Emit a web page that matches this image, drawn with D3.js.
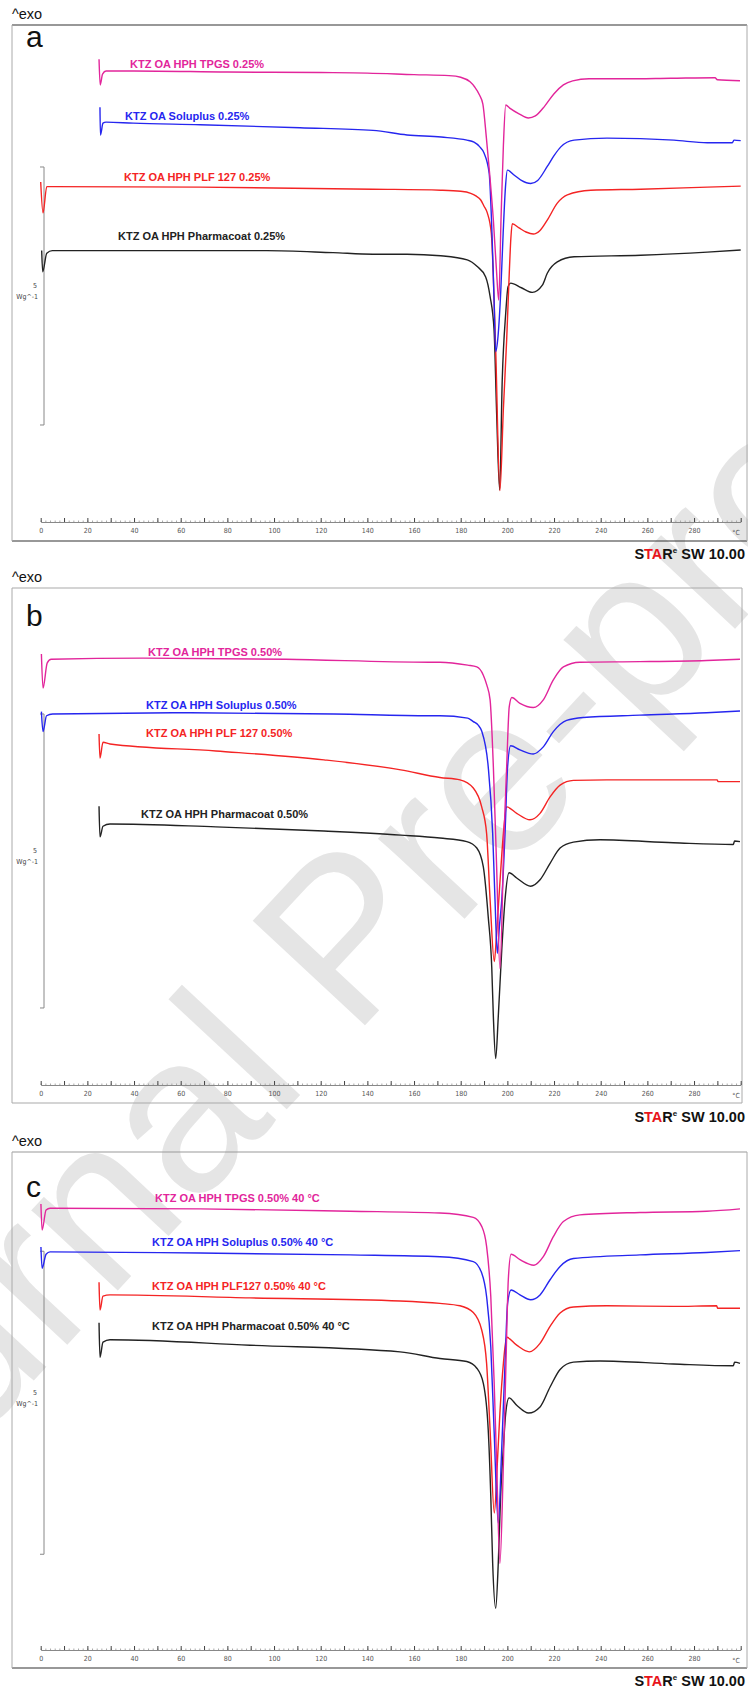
<!DOCTYPE html>
<html><head><meta charset="utf-8">
<script src="https://cdn.jsdelivr.net/npm/d3@7"></script>
<style>body{margin:0;background:#fff} svg{display:block}</style>
</head><body>
<svg id="chart" width="748" height="1693"></svg>
<script>
// ---------------- data ----------------
const temperatureDomain = [0, 300];
const tickLabelValues = [0,20,40,60,80,100,120,140,160,180,200,220,240,260,280];
const unitLabel = "°C";
const panelLetters = ["a", "b", "c"];
const seriesNames = ["TPGS", "Soluplus", "PLF 127", "Pharmacoat"];
const labelsA = ["KTZ OA HPH TPGS 0.25%", "KTZ OA Soluplus 0.25%", "KTZ OA HPH PLF 127 0.25%", "KTZ OA HPH Pharmacoat 0.25%"];
const labelsB = ["KTZ OA HPH TPGS 0.50%", "KTZ OA HPH Soluplus 0.50%", "KTZ OA HPH PLF 127 0.50%", "KTZ OA HPH Pharmacoat 0.50%"];
const labelsC = ["KTZ OA HPH TPGS 0.50% 40 °C", "KTZ OA HPH Soluplus 0.50% 40 °C", "KTZ OA HPH PLF127 0.50% 40 °C", "KTZ OA HPH Pharmacoat 0.50% 40 °C"];
// scale bar: [bottom, top] in W/g (5 W/g span)
const scaleBarA = [1.88, 6.88];
const scaleBarB = [1.31, 6.31];
const scaleBarC = [1.58, 6.58];

// heat flow curves [T (°C), W/g]
const tpgsA = [[25.0,8.97],[25.5,8.47],[26.5,8.68],[28,8.74],[40,8.74],[80,8.72],[120,8.71],[140,8.70],[160,8.67],[175,8.65],[180,8.62],[184,8.53],[186,8.43],[188,8.28],[189.5,8.10],[191,7.45],[192.5,6.70],[194,5.85],[195.3,4.90],[196.3,4.30],[197.3,5.90],[198.3,7.30],[199.3,8.08],[201,8.02],[205,7.91],[209,7.83],[212,7.87],[216,8.06],[220,8.30],[224,8.47],[228,8.55],[235,8.59],[250,8.59],[270,8.60],[289,8.61],[290,8.57],[299.7,8.55]];
const solA = [[25.4,8.04],[25.6,7.50],[26.7,7.73],[28,7.75],[39.6,7.73],[68.3,7.70],[111.1,7.64],[142.4,7.59],[157,7.50],[171.6,7.46],[182.7,7.40],[185.7,7.36],[188,7.28],[190,7.15],[192.2,6.76],[193.4,5.60],[194.3,4.30],[195,3.30],[196,3.60],[197.2,4.50],[198.2,5.60],[199.2,6.50],[200,6.82],[203,6.72],[206,6.62],[210,6.56],[213,6.62],[217.1,6.89],[220,7.10],[222.9,7.27],[228.6,7.40],[242.7,7.44],[271.4,7.40],[285.7,7.35],[296.4,7.35],[297.1,7.40],[300,7.39]];
const plfA = [[0,6.59],[1.0,5.99],[2.6,6.50],[5,6.50],[68.3,6.49],[142.4,6.45],[171.4,6.43],[180,6.41],[184.3,6.37],[186.5,6.32],[188.6,6.24],[190,6.12],[191.4,5.99],[193.1,5.60],[195,3.33],[196.8,0.61],[198.3,2.20],[199.7,3.53],[200.7,4.69],[201.5,5.50],[202.1,5.78],[205,5.70],[208,5.62],[211.1,5.58],[214,5.65],[217.1,5.85],[221.4,6.18],[225.7,6.34],[235.7,6.43],[257.1,6.45],[285.7,6.49],[300,6.51]];
const phA = [[0.43,5.26],[0.86,4.85],[2.6,5.21],[5,5.26],[39.7,5.26],[96.9,5.26],[125.3,5.22],[142.4,5.19],[157,5.19],[171.4,5.16],[182.8,5.08],[187.1,4.95],[190.7,4.75],[192.6,4.37],[194.3,3.72],[195.4,2.11],[196.7,0.62],[197.8,2.75],[199.3,4.05],[200.3,4.56],[201.4,4.63],[206,4.54],[210.7,4.45],[215,4.59],[217.1,4.82],[221.4,5.04],[228.6,5.14],[257.1,5.17],[285.7,5.23],[300,5.27]];

const tpgsB = [[0.3,7.33],[1.0,6.75],[2.8,7.18],[4.5,7.24],[43.8,7.26],[105.1,7.24],[166.4,7.19],[171.1,7.19],[183,7.14],[186.9,7.11],[189.7,6.97],[191.2,6.80],[192.6,6.55],[194,5.41],[195.4,3.71],[196.8,1.98],[198.6,4.29],[199.7,5.41],[200.8,6.43],[201.9,6.59],[205.4,6.49],[211.1,6.42],[215.4,6.55],[219.7,6.89],[224,7.11],[231.1,7.19],[256.8,7.20],[285.4,7.22],[299.7,7.24]];
const solB = [[0.3,6.35],[1.0,6.01],[2.5,6.28],[5.1,6.31],[64.4,6.33],[125.7,6.31],[166.6,6.28],[171.1,6.28],[183,6.24],[185.4,6.18],[187.5,6.12],[189,6.02],[191.8,5.41],[193.7,4.28],[194.7,3.15],[195.7,2.24],[196.6,2.70],[197.6,3.15],[199,4.28],[200.1,5.41],[201.4,5.77],[205.4,5.70],[211.1,5.63],[215.4,5.75],[219.7,6.01],[225.4,6.20],[232.5,6.25],[256.8,6.29],[285.4,6.33],[299.7,6.36]];
const plfB = [[25,5.97],[25.4,5.56],[26.7,5.83],[29.7,5.80],[75.1,5.68],[121.4,5.53],[154.3,5.36],[171.1,5.23],[179.7,5.19],[185.4,5.05],[189,4.73],[191.1,4.28],[192.6,3.15],[194.4,2.10],[195.4,2.59],[196.8,3.44],[198.3,4.28],[199.7,4.73],[204,4.62],[209.7,4.51],[214,4.62],[218.3,4.90],[222.6,5.10],[228.3,5.18],[242.6,5.19],[271.1,5.19],[289.9,5.19],[290.3,5.16],[299.7,5.16]];
const phB = [[25,4.74],[25.4,4.22],[26.7,4.40],[29.7,4.44],[75.1,4.39],[121.4,4.32],[154.3,4.25],[171.1,4.20],[182.6,4.14],[186.9,4.03],[189.7,3.71],[191.8,2.86],[193.3,2.01],[194,1.16],[195,0.45],[196.1,1.16],[197.6,2.30],[199,3.15],[200.7,3.61],[204,3.52],[210,3.38],[214,3.49],[218.3,3.77],[222.6,4.03],[228.3,4.13],[239.7,4.17],[271.1,4.12],[296.8,4.09],[297.4,4.15],[299.7,4.14]];

const tpgsC = [[0.1,7.36],[0.6,6.93],[2.3,7.26],[4,7.29],[68.3,7.28],[132.6,7.24],[171.1,7.21],[185.4,7.14],[189,6.99],[191.1,6.66],[192.9,5.83],[194.3,4.46],[195.4,3.08],[196.8,1.43],[198.3,3.08],[199.4,4.73],[200.4,6.11],[201.6,6.53],[205.4,6.44],[211.4,6.35],[215.4,6.49],[219.7,6.82],[224,7.07],[231.1,7.18],[256.8,7.22],[285.4,7.24],[299.7,7.28]];
const solC = [[0.1,6.65],[0.6,6.30],[2.3,6.53],[4,6.57],[68.3,6.55],[132.6,6.52],[171.1,6.49],[185.4,6.41],[189,6.22],[191.1,5.83],[192.9,5.00],[194.3,3.63],[196.1,2.09],[197.6,3.35],[199,4.73],[200.1,5.72],[201.6,5.94],[205.4,5.86],[210,5.78],[214,5.86],[218.3,6.11],[222.6,6.33],[228.3,6.46],[256.8,6.52],[285.4,6.56],[299.7,6.59]];
const plfC = [[25,6.07],[25.4,5.61],[26.7,5.84],[29.7,5.86],[89.7,5.81],[154,5.76],[171.1,5.72],[179.7,5.68],[185.4,5.57],[189,5.28],[191.1,4.73],[192.6,3.63],[194.4,2.26],[195.7,3.08],[196.8,3.91],[198.3,4.73],[199.7,5.16],[204,5.03],[209.4,4.92],[214,5.06],[218.3,5.34],[222.6,5.56],[228.3,5.66],[242.6,5.68],[271.1,5.67],[289.7,5.68],[290.1,5.64],[299.7,5.64]];
const phC = [[25,5.40],[25.4,4.83],[26.7,5.08],[29.7,5.12],[89.7,5.03],[154,4.92],[171.1,4.81],[182.6,4.76],[186.9,4.65],[189.7,4.40],[191.8,3.63],[192.9,2.53],[193.7,1.43],[195,0.69],[196.1,1.43],[197.1,2.53],[198.3,3.35],[199.3,3.91],[200.7,4.16],[204,4.04],[209.1,3.91],[214,4.01],[218.3,4.34],[222.6,4.63],[228.3,4.75],[239.7,4.77],[271.1,4.72],[296.8,4.69],[297.4,4.75],[299.7,4.73]];

// ---------------- layout / style ----------------
const colors = ["#e2259b", "#2626ef", "#f42424", "#222222"];
const drawOrder = [3, 2, 1, 0];
const panels = [
  {letter: panelLetters[0], data: [tpgsA, solA, plfA, phA], labels: labelsA, bar: scaleBarA,
   frame: {top: 25, bottom: 541, left: 12, right: 747, topC: "#333", sideC: "#aaa", bottomC: "#333"},
   axisY: 522, ppu: 51.6, exoY: 19, letterY: 47, starY: 559,
   labelPos: [[130,68],[125,120],[124,181],[118,240]]},
  {letter: panelLetters[1], data: [tpgsB, solB, plfB, phB], labels: labelsB, bar: scaleBarB,
   frame: {top: 588, bottom: 1103, left: 12, right: 742, topC: "#aaa", sideC: "#aaa", bottomC: "#aaa"},
   axisY: 1085, ppu: 58.8, exoY: 582, letterY: 626, starY: 1122,
   labelPos: [[148,656],[146,709],[146,737],[141,818]]},
  {letter: panelLetters[2], data: [tpgsC, solC, plfC, phC], labels: labelsC, bar: scaleBarC,
   frame: {top: 1152, bottom: 1668, left: 12, right: 747, topC: "#999", sideC: "#aaa", bottomC: "#333"},
   axisY: 1650, ppu: 60.6, exoY: 1146, letterY: 1197, starY: 1686,
   labelPos: [[155,1202],[152,1246],[152,1290],[152,1330]]}
];

const svg = d3.select("#chart");
const x = d3.scaleLinear().domain(temperatureDomain).range([40.7, 740.7]);

// watermark
svg.append("text")
  .attr("transform", "translate(399,989) rotate(-47)")
  .attr("text-anchor", "middle")
  .style("font-family", "'Liberation Sans', Arial, sans-serif")
  .style("font-size", "223px")
  .attr("fill", "#e5e5e5")
  .text("Journal Pre-proof");

panels.forEach(p => {
  const g = svg.append("g");
  const f = p.frame;
  const y = d3.scaleLinear().domain([0, 1]).range([p.axisY, p.axisY - p.ppu]);

  // ^exo
  g.append("text").attr("x", 12).attr("y", p.exoY)
    .style("font", "14.5px 'Liberation Sans', Arial, sans-serif").attr("fill", "#111").text("^exo");

  // frame
  g.append("line").attr("x1", f.left).attr("x2", f.right).attr("y1", f.top).attr("y2", f.top).attr("stroke", f.topC).attr("stroke-width", 1.2);
  g.append("line").attr("x1", f.left).attr("x2", f.right).attr("y1", f.bottom).attr("y2", f.bottom).attr("stroke", f.bottomC).attr("stroke-width", 1.2);
  g.append("line").attr("x1", f.left).attr("x2", f.left).attr("y1", f.top).attr("y2", f.bottom).attr("stroke", f.sideC).attr("stroke-width", 1);
  g.append("line").attr("x1", f.right).attr("x2", f.right).attr("y1", f.top).attr("y2", f.bottom).attr("stroke", f.sideC).attr("stroke-width", 1);

  // panel letter
  g.append("text").attr("x", 26).attr("y", p.letterY)
    .style("font", "30px 'Liberation Sans', Arial, sans-serif").attr("fill", "#111").text(p.letter);

  // x axis: minor ticks, major ticks, labels
  const axMinor = d3.axisTop(x).tickValues(d3.range(0, 301, 2)).tickSize(1.5).tickSizeOuter(0).tickFormat("");
  const axMajor = d3.axisTop(x).tickValues(d3.range(0, 301, 10)).tickSize(4).tickSizeOuter(0).tickFormat("");
  const axLab = d3.axisBottom(x).tickValues(tickLabelValues).tickSize(0).tickPadding(6).tickFormat(d3.format("d"));
  const gMinor = g.append("g").attr("transform", `translate(0,${p.axisY})`).call(axMinor);
  gMinor.select(".domain").attr("stroke", "#888");
  gMinor.selectAll(".tick line").attr("stroke", "#aaa");
  const gMajor = g.append("g").attr("transform", `translate(0,${p.axisY})`).call(axMajor);
  gMajor.select(".domain").remove();
  gMajor.selectAll(".tick line").attr("stroke", "#444");
  const gLab = g.append("g").attr("transform", `translate(0,${p.axisY})`).call(axLab);
  gLab.select(".domain").remove();
  gLab.selectAll(".tick text").attr("fill", "#555")
    .style("font-family", "'DejaVu Sans Condensed', 'Liberation Sans', sans-serif").style("font-size", "7px");
  g.append("text").attr("x", x(298)).attr("y", p.axisY + 12.5).attr("text-anchor", "middle")
    .style("font-family", "'DejaVu Sans Condensed', 'Liberation Sans', sans-serif").style("font-size", "7px")
    .attr("fill", "#555").text(unitLabel);

  // scale bar
  const yb0 = y(p.bar[0]), yb1 = y(p.bar[1]);
  g.append("path").attr("d", `M40,${yb1}H44V${yb0}H40`).attr("fill", "none").attr("stroke", "#888").attr("stroke-width", 1);
  const mid = (yb0 + yb1) / 2;
  g.append("text").attr("x", 37).attr("y", mid - 8).attr("text-anchor", "end")
    .style("font", "7px 'DejaVu Sans Condensed', sans-serif").attr("fill", "#444").text(p.bar[1] - p.bar[0]);
  g.append("text").attr("x", 38).attr("y", mid + 3).attr("text-anchor", "end")
    .style("font", "7px 'DejaVu Sans Condensed', sans-serif").attr("fill", "#444").text("Wg^-1");

  // curves
  const line = d3.line().x(d => x(d[0])).y(d => y(d[1])).curve(d3.curveMonotoneX);
  drawOrder.forEach(i => {
    g.append("path").datum(p.data[i]).attr("d", line)
      .attr("fill", "none").attr("stroke", colors[i]).attr("stroke-width", 1.4)
      .attr("stroke-linejoin", "round");
  });

  // series labels
  p.labels.forEach((t, i) => {
    g.append("text").attr("x", p.labelPos[i][0]).attr("y", p.labelPos[i][1])
      .style("font", "bold 11px 'Liberation Sans', Arial, sans-serif")
      .attr("fill", colors[i]).text(t);
  });

  // STARe SW 10.00
  const st = g.append("text").attr("x", 745).attr("y", p.starY).attr("text-anchor", "end")
    .style("font", "bold 14.5px 'Liberation Sans', Arial, sans-serif").attr("fill", "#111");
  st.append("tspan").text("S");
  st.append("tspan").attr("fill", "#e8141b").text("TA");
  st.append("tspan").text("R");
  st.append("tspan").attr("font-size", "8px").attr("dy", "-6").text("e");
  st.append("tspan").attr("dy", "6").text(" SW 10.00");
});
</script>
</body></html>
